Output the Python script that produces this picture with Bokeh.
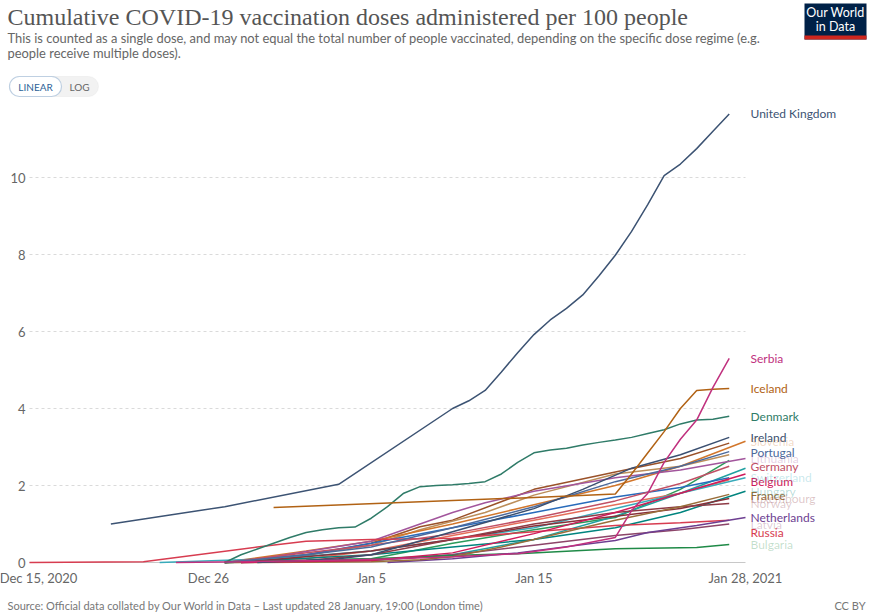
import pandas as pd
from bokeh.plotting import figure
from bokeh.models import Label, BoxAnnotation, Range1d
from bokeh.core.properties import value
from bokeh.embed import file_html
from bokeh.resources import INLINE

# ---------------- data (cumulative doses per 100 people) ----------------
uk_dates = ["12-20", "12-27", "01-03", "01-10", "01-11", "01-12", "01-13", "01-14", "01-15", "01-16",
            "01-17", "01-18", "01-19", "01-20", "01-21", "01-22", "01-23", "01-24", "01-25", "01-26", "01-27"]
uk_vals = [1.0, 1.45, 2.03, 4.0, 4.2, 4.47, 4.95, 5.45, 5.92, 6.3,
           6.6, 6.95, 7.45, 7.98, 8.6, 9.3, 10.05, 10.35, 10.75, 11.2, 11.65]

serbia_dates = ["12-24", "12-28", "01-02", "01-06", "01-10", "01-14", "01-17", "01-20", "01-21", "01-22",
                "01-23", "01-24", "01-25", "01-26", "01-27"]
serbia_vals = [0.0, 0.02, 0.05, 0.09, 0.15, 0.23, 0.4, 0.65, 1.35, 1.8, 2.6, 3.2, 3.7, 4.55, 5.3]

iceland_dates = ["12-30", "01-15", "01-20", "01-21", "01-22", "01-23", "01-24", "01-25", "01-26", "01-27"]
iceland_vals = [1.43, 1.69, 1.78, 2.3, 2.85, 3.4, 4.0, 4.47, 4.5, 4.52]

denmark_dates = ["12-27", "12-28", "12-29", "12-30", "12-31", "01-01", "01-02", "01-03", "01-04", "01-05",
                 "01-06", "01-07", "01-08", "01-09", "01-10", "01-11", "01-12", "01-13", "01-14", "01-15",
                 "01-16", "01-17", "01-18", "01-19", "01-20", "01-21", "01-22", "01-23", "01-24", "01-25",
                 "01-26", "01-27"]
denmark_vals = [0.0, 0.2, 0.35, 0.5, 0.65, 0.78, 0.85, 0.9, 0.92, 1.15,
                1.45, 1.8, 1.97, 2.0, 2.02, 2.05, 2.1, 2.3, 2.6, 2.85,
                2.92, 2.97, 3.05, 3.12, 3.18, 3.25, 3.35, 3.45, 3.6, 3.7,
                3.72, 3.8]

ireland_dates = ["12-29", "01-03", "01-05", "01-10", "01-15", "01-18", "01-21", "01-24", "01-27"]
ireland_vals = [0.0, 0.1, 0.2, 0.8, 1.4, 1.9, 2.45, 2.8, 3.25]

portugal_dates = ["12-27", "01-01", "01-05", "01-10", "01-15", "01-20", "01-24", "01-27"]
portugal_vals = [0.0, 0.2, 0.4, 0.9, 1.45, 2.1, 2.5, 2.88]

germany_dates = ["12-27", "12-31", "01-05", "01-10", "01-15", "01-20", "01-24", "01-27"]
germany_vals = [0.0, 0.2, 0.45, 0.75, 1.15, 1.6, 2.05, 2.5]

belgium_dates = ["12-28", "01-05", "01-10", "01-15", "01-20", "01-24", "01-28"]
belgium_vals = [0.0, 0.05, 0.25, 0.75, 1.3, 1.8, 2.3]

france_dates = ["12-27", "01-03", "01-05", "01-08", "01-10", "01-13", "01-15", "01-18", "01-20", "01-24", "01-27"]
france_vals = [0.0, 0.01, 0.02, 0.07, 0.15, 0.4, 0.6, 0.9, 1.1, 1.45, 1.77]

netherlands_dates = ["01-06", "01-10", "01-14", "01-20", "01-22", "01-25", "01-28"]
netherlands_vals = [0.0, 0.1, 0.25, 0.57, 0.78, 0.96, 1.17]

russia_dates = ["12-15", "12-22", "12-29", "01-01", "01-05", "01-10", "01-15", "01-20", "01-24", "01-27"]
russia_vals = [0.0, 0.02, 0.4, 0.55, 0.6, 0.63, 0.8, 0.96, 1.03, 1.1]

bulgaria_dates = ["12-27", "01-01", "01-05", "01-10", "01-14", "01-20", "01-25", "01-27"]
bulgaria_vals = [0.0, 0.05, 0.1, 0.18, 0.23, 0.36, 0.39, 0.47]

slovenia_dates = ["12-27", "01-01", "01-05", "01-10", "01-15", "01-20", "01-24", "01-28"]
slovenia_vals = [0.0, 0.3, 0.55, 1.0, 1.5, 2.0, 2.5, 3.15]

lithuania_dates = ["12-28", "01-05", "01-08", "01-10", "01-12", "01-15", "01-20", "01-24", "01-28"]
lithuania_vals = [0.02, 0.55, 1.0, 1.3, 1.55, 1.85, 2.2, 2.4, 2.7]

switzerland_dates = ["12-23", "12-30", "01-05", "01-10", "01-15", "01-20", "01-24", "01-28"]
switzerland_vals = [0.0, 0.1, 0.3, 0.6, 0.9, 1.4, 1.8, 2.2]

hungary_dates = ["12-27", "01-05", "01-10", "01-15", "01-20", "01-24", "01-28"]
hungary_vals = [0.0, 0.2, 0.4, 0.6, 0.9, 1.3, 1.85]

luxembourg_dates = ["12-28", "01-05", "01-10", "01-15", "01-20", "01-24", "01-27"]
luxembourg_vals = [0.0, 0.3, 0.6, 0.95, 1.2, 1.4, 1.66]

norway_dates = ["12-27", "01-01", "01-05", "01-10", "01-15", "01-20", "01-24", "01-27"]
norway_vals = [0.0, 0.05, 0.2, 0.6, 1.0, 1.3, 1.45, 1.53]

latvia_dates = ["12-28", "01-05", "01-10", "01-15", "01-20", "01-24", "01-27"]
latvia_vals = [0.0, 0.05, 0.2, 0.45, 0.7, 0.85, 1.0]

italy_dates = ["12-27", "12-31", "01-05", "01-08", "01-10", "01-15", "01-20", "01-24", "01-27"]
italy_vals = [0.0, 0.1, 0.5, 0.93, 1.1, 1.9, 2.35, 2.7, 3.1]

spain_dates = ["12-27", "01-01", "01-05", "01-08", "01-12", "01-15", "01-20", "01-24", "01-27"]
spain_vals = [0.0, 0.2, 0.45, 0.85, 1.3, 1.75, 2.3, 2.5, 2.8]

romania_dates = ["12-27", "01-05", "01-10", "01-15", "01-20", "01-24", "01-27"]
romania_vals = [0.0, 0.1, 0.5, 0.85, 1.17, 1.9, 2.65]

austria_dates = ["12-27", "01-05", "01-10", "01-15", "01-20", "01-24", "01-28"]
austria_vals = [0.0, 0.05, 0.2, 0.6, 1.2, 1.8, 2.45]

estonia_dates = ["12-27", "01-01", "01-05", "01-10", "01-15", "01-20", "01-24", "01-27"]
estonia_vals = [0.0, 0.2, 0.5, 0.9, 1.3, 1.7, 1.95, 2.2]

poland_dates = ["12-27", "01-01", "01-05", "01-10", "01-15", "01-20", "01-24", "01-27"]
poland_vals = [0.0, 0.1, 0.3, 0.7, 1.1, 1.5, 1.8, 2.15]

tick_dates = ["12-15", "12-26", "01-05", "01-15", "01-28"]
tick_labels = ["Dec 15, 2020", "Dec 26", "Jan 5", "Jan 15", "Jan 28, 2021"]
y_ticks = [0, 2, 4, 6, 8, 10]
grid_ticks = [2, 4, 6, 8, 10]

# (name, dates, values, colour, label mode: "show", "faded", None)
series = [
    ("Italy", italy_dates, italy_vals, "#9A5129", None),
    ("Spain", spain_dates, spain_vals, "#BC8E5A", None),
    ("Romania", romania_dates, romania_vals, "#2B9A5A", None),
    ("Austria", austria_dates, austria_vals, "#1FA0A0", None),
    ("Estonia", estonia_dates, estonia_vals, "#286BBB", None),
    ("Poland", poland_dates, poland_vals, "#E56E5A", None),
    ("Slovenia", slovenia_dates, slovenia_vals, "#D2762B", "faded"),
    ("Lithuania", lithuania_dates, lithuania_vals, "#A2559C", "faded"),
    ("Switzerland", switzerland_dates, switzerland_vals, "#38AABA", "faded"),
    ("Hungary", hungary_dates, hungary_vals, "#00847E", "faded"),
    ("Luxembourg", luxembourg_dates, luxembourg_vals, "#883039", "faded"),
    ("Norway", norway_dates, norway_vals, "#8E3B46", "faded"),
    ("Latvia", latvia_dates, latvia_vals, "#8C4569", "faded"),
    ("Bulgaria", bulgaria_dates, bulgaria_vals, "#1F8A47", "faded"),
    ("Russia", russia_dates, russia_vals, "#D73C50", "show"),
    ("Netherlands", netherlands_dates, netherlands_vals, "#6D3E91", "show"),
    ("France", france_dates, france_vals, "#996D39", "show"),
    ("Belgium", belgium_dates, belgium_vals, "#CF1B5B", "show"),
    ("Germany", germany_dates, germany_vals, "#C15065", "show"),
    ("Portugal", portugal_dates, portugal_vals, "#4C6A9C", "show"),
    ("Ireland", ireland_dates, ireland_vals, "#3A4F70", "show"),
    ("Denmark", denmark_dates, denmark_vals, "#2F7B68", "show"),
    ("Iceland", iceland_dates, iceland_vals, "#B16214", "show"),
    ("Serbia", serbia_dates, serbia_vals, "#C0307E", "show"),
    ("United Kingdom", uk_dates, uk_vals, "#3C5373", "show"),
]


def to_dates(ds):
    return [pd.Timestamp(("2020-" if s.startswith("12") else "2021-") + s) for s in ds]


FONT = "Lato"
W, H = 875, 616
# plotting area inside the canvas (pixels): left, right, baseline of y=0
PL, PR, PB = 29, 745, 562
PX_PER_UNIT = 38.5
x_start, x_end = to_dates(["12-15", "01-28"])
px_per_day = (PR - PL) / (x_end - x_start).days
day = pd.Timedelta(days=1)
xr = Range1d(x_start - day * (PL / px_per_day), x_start + day * ((W - PL) / px_per_day))
yr = Range1d(-(H - PB) / PX_PER_UNIT, PB / PX_PER_UNIT)

p = figure(width=W, height=H, x_axis_type="datetime", x_range=xr, y_range=yr,
           x_axis_location=None, y_axis_location=None,
           output_backend="svg", toolbar_location=None, min_border=0)
p.outline_line_color = None
p.xgrid.visible = False
p.ygrid.visible = False

# grid lines and baseline
n = len(grid_ticks)
p.segment(x0=[x_start] * n, x1=[x_end] * n, y0=grid_ticks, y1=grid_ticks,
          line_color="#dadada", line_dash="3 3", line_width=1)
p.segment(x0=[x_start], x1=[x_end], y0=[0], y1=[0], line_color="#c8c8c8", line_width=1)

# tick labels
p.text(x=[x_start] * len(y_ticks), y=y_ticks, text=[str(t) for t in y_ticks], x_offset=-4,
       text_align="right", text_baseline="middle", text_font=value(FONT),
       text_font_size="13px", text_color="#666666")
# first date label is nudged right, as in the original where it is pushed toward the canvas
x_label_shift = [9] + [0] * (len(tick_dates) - 1)
p.text(x=to_dates(tick_dates), y=[0] * len(tick_dates), text=tick_labels, y_offset=15,
       x_offset=x_label_shift, text_align="center", text_baseline="middle", text_font=value(FONT),
       text_font_size="13px", text_color="#666666")

# lines
for name, ds, vs, col, mode in series:
    p.line(to_dates(ds), vs, line_color=col, line_width=1.5)

# end labels
GAP = 0.38
shown = sorted([s for s in series if s[4] == "show"], key=lambda s: -s[2][-1])
prev = None
for name, ds, vs, col, mode in shown:
    y = vs[-1] if prev is None else min(vs[-1], prev - GAP)
    prev = y
    p.add_layout(Label(x=x_end, y=y, x_offset=5, text=name, text_baseline="middle",
                       text_font=FONT, text_font_size="12px", text_color=col))
for name, ds, vs, col, mode in series:
    if mode == "faded":
        p.add_layout(Label(x=x_end, y=vs[-1], x_offset=5, text=name, text_baseline="middle",
                           text_font=FONT, text_font_size="12px", text_color=col, text_alpha=0.28))


# header / footer in canvas pixels
def lab(text, rx, ry, size, color, font=FONT, align="left", **kw):
    p.add_layout(Label(x=rx, y=H - ry, x_units="screen", y_units="screen", text=text,
                       text_font=font, text_font_size=size, text_color=color,
                       text_align=align, text_baseline="middle", **kw))


def box(l, r, t, b, **kw):
    p.add_layout(BoxAnnotation(left=l, right=r, top=H - t, bottom=H - b,
                               left_units="screen", right_units="screen",
                               top_units="screen", bottom_units="screen", **kw))


lab("Cumulative COVID-19 vaccination doses administered per 100 people", 7, 16, "24px", "#555555",
    font="Liberation Serif")
lab("This is counted as a single dose, and may not equal the total number of people vaccinated, "
    "depending on the specific dose regime (e.g.", 7, 37, "12.9px", "#666666")
lab("people receive multiple doses).", 7, 52, "12.9px", "#666666")

box(9, 98, 76, 96, fill_color="#f2f2f2", fill_alpha=1, line_color="#dddddd", line_width=1, border_radius=10)
box(9, 61, 76, 96, fill_color="#ffffff", fill_alpha=1, line_color="#3b75b0", line_width=1.2, border_radius=10)
lab("LINEAR", 35, 86.5, "10px", "#2c5f97", align="center")
lab("LOG", 79, 86.5, "10px", "#666666", align="center")

box(804, 866, 3, 39, fill_color="#002147", fill_alpha=1, line_color=None)
box(804, 866, 35, 39, fill_color="#ce261e", fill_alpha=1, line_color=None)
lab("Our World", 835, 12, "12.5px", "#ffffff", align="center")
lab("in Data", 835, 26, "12.5px", "#ffffff", align="center")

lab("Source: Official data collated by Our World in Data \u2013 Last updated 28 January, 19:00 (London time)",
    7, 605, "11px", "#777777")
lab("CC BY", 865, 605, "11px", "#777777", align="right")

open("out.html", "w").write(file_html(p, INLINE))
